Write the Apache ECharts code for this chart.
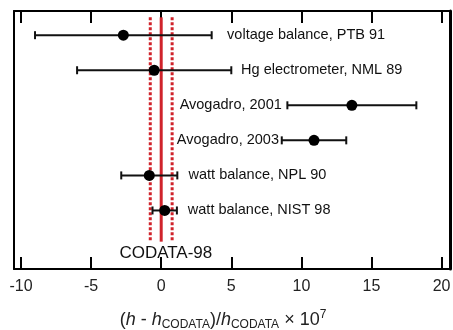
<!DOCTYPE html>
<html>
<head>
<meta charset="utf-8">
<script src="https://cdn.jsdelivr.net/npm/echarts@6/dist/echarts.min.js"></script>
<style>
  html, body { margin: 0; padding: 0; background: #fff; }
  #main { width: 453px; height: 330px; }
</style>
</head>
<body>
<div id="main"></div>
<script>
// measurements, top to bottom
const names = ['voltage balance, PTB 91', 'Hg electrometer, NML 89', 'Avogadro, 2001',
  'Avogadro, 2003', 'watt balance, NPL 90', 'watt balance, NIST 98'];
const rows = [1, 2, 3, 4, 5, 6];
const values = [-2.7, -0.5, 13.6, 10.9, -0.85, 0.25];
const errors = [6.3, 5.5, 4.6, 2.3, 2.0, 0.87];
// where each label is anchored (x units) and which side it hangs from
const labelX = [4.7, 5.7, 8.6, 8.4, 1.95, 1.9];
const labelAlign = ['left', 'left', 'right', 'right', 'left', 'left'];
const xTicks = [-10, -5, 0, 5, 10, 15, 20];
// CODATA-98 value and its band
const codata = 0;
const codataUnc = 0.78;
const codataSpan = [0.49, 6.89];

const font = 'Liberation Sans, Arial, Helvetica, sans-serif';
const red = '#d0232b';

const chart = echarts.init(document.getElementById('main'));

const errData = rows.map((r, i) => [r, values[i], errors[i]]);
const ptData = rows.map((r, i) => [values[i], r]);
const lblData = rows.map((r, i) => [labelX[i], r, i]);
const bandData = [
  [codata - codataUnc, codataSpan[0], codataSpan[1], 1],
  [codata, codataSpan[0], codataSpan[1], 0],
  [codata + codataUnc, codataSpan[0], codataSpan[1], 1]
];

const frame = { show: true, onZero: false, lineStyle: { color: '#000', width: 2 } };

const option = {
  animation: false,
  grid: { left: 14, right: 3, top: 11, bottom: 61, outerBoundsMode: 'none' },
  xAxis: [
    {
      type: 'value', min: -10.5, max: 20.6, position: 'bottom',
      axisLine: frame,
      axisTick: { inside: true, length: 12, customValues: xTicks, lineStyle: { color: '#000', width: 2 } },
      axisLabel: { customValues: xTicks, margin: 10, fontSize: 16, color: '#222', fontFamily: font },
      splitLine: { show: false },
      name: '{p|(}{i|h}{p| - }{i|h}{s|CODATA}{p|)/}{i|h}{s|CODATA}{p| × 10}{u|7}',
      nameLocation: 'middle',
      nameGap: 40,
      nameTextStyle: {
        padding: [0, 18, 0, 0],
        rich: {
          p: { fontSize: 18, color: '#222', fontFamily: font, lineHeight: 22 },
          i: { fontSize: 18, color: '#222', fontFamily: font, fontStyle: 'italic', lineHeight: 22 },
          s: { fontSize: 12, color: '#222', fontFamily: font, verticalAlign: 'bottom', lineHeight: 12 },
          u: { fontSize: 12, color: '#222', fontFamily: font, verticalAlign: 'top', lineHeight: 10 }
        }
      }
    },
    {
      type: 'value', min: -10.5, max: 20.6, position: 'top',
      axisLine: frame,
      axisTick: { inside: true, length: 12, customValues: xTicks, lineStyle: { color: '#000', width: 2 } },
      axisLabel: { show: false },
      splitLine: { show: false }
    }
  ],
  yAxis: [
    {
      type: 'value', min: 0.31, max: 7.67, inverse: true, position: 'left',
      axisLine: frame,
      axisTick: { show: false }, axisLabel: { show: false }, splitLine: { show: false }
    },
    {
      type: 'value', min: 0.31, max: 7.67, inverse: true, position: 'right',
      axisLine: { show: true, onZero: false, lineStyle: { color: '#000', width: 3 } },
      axisTick: { show: false }, axisLabel: { show: false }, splitLine: { show: false }
    }
  ],
  series: [
    {
      // CODATA-98 value (solid) and uncertainty band (dotted)
      type: 'custom',
      data: bandData,
      renderItem: function (params, api) {
        const a = api.coord([api.value(0), api.value(1)]);
        const b = api.coord([api.value(0), api.value(2)]);
        return {
          type: 'line',
          shape: { x1: a[0], y1: a[1], x2: b[0], y2: b[1] },
          style: { stroke: red, lineWidth: 3, lineDash: api.value(3) ? [3, 2] : null }
        };
      },
      z: 2
    },
    {
      // error bars
      type: 'custom',
      data: errData,
      renderItem: function (params, api) {
        const y = api.value(0), x = api.value(1), e = api.value(2);
        const l = api.coord([x - e, y]);
        const r = api.coord([x + e, y]);
        const st = { stroke: '#111', lineWidth: 2 };
        return {
          type: 'group',
          children: [
            { type: 'line', shape: { x1: l[0], y1: l[1], x2: r[0], y2: r[1] }, style: st },
            { type: 'line', shape: { x1: l[0], y1: l[1] - 4, x2: l[0], y2: l[1] + 4 }, style: st },
            { type: 'line', shape: { x1: r[0], y1: r[1] - 4, x2: r[0], y2: r[1] + 4 }, style: st }
          ]
        };
      },
      z: 3
    },
    {
      type: 'scatter',
      data: ptData,
      symbol: 'circle',
      symbolSize: 11,
      itemStyle: { color: '#000', opacity: 1 },
      z: 4
    },
    {
      // measurement labels
      type: 'custom',
      data: lblData,
      renderItem: function (params, api) {
        const i = api.value(2);
        const p = api.coord([api.value(0), api.value(1)]);
        return {
          type: 'text',
          x: p[0], y: p[1],
          style: {
            text: names[i], fill: '#111', fontSize: 14.5, fontFamily: font,
            align: labelAlign[i], verticalAlign: 'middle'
          }
        };
      },
      z: 5
    },
    {
      type: 'custom',
      data: [[0.33, 7.22]],
      renderItem: function (params, api) {
        const p = api.coord([api.value(0), api.value(1)]);
        return {
          type: 'text', x: p[0], y: p[1],
          style: { text: 'CODATA-98', fill: '#111', fontSize: 17, fontFamily: font, align: 'center', verticalAlign: 'middle' }
        };
      },
      z: 5
    }
  ]
};

chart.setOption(option);
</script>
</body>
</html>
